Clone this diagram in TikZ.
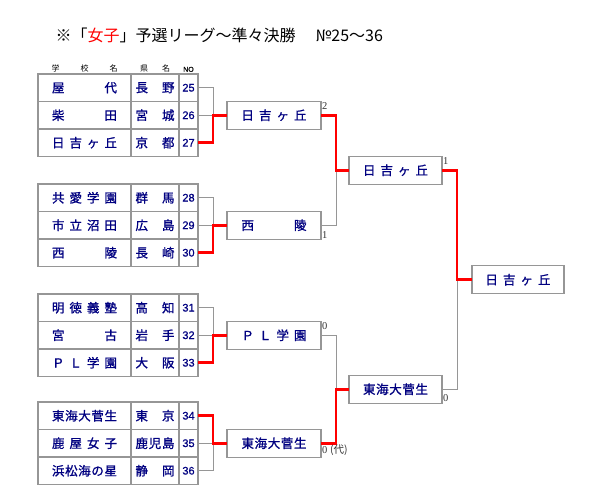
\documentclass[tikz,border=0pt]{standalone}
\usepackage{fontspec}
\setmainfont{Liberation Serif}
\newfontfamily\jp{Noto Sans CJK JP}
\newfontfamily\jpb[FakeBold=1.2]{Noto Sans CJK JP}
\newfontfamily\arial[FakeBold=0.8]{Liberation Sans}
\usepackage{xcolor}
\usetikzlibrary{positioning}
\definecolor{navy}{RGB}{0,0,128}
\definecolor{linegray}{RGB}{150,150,150}

\newcommand\spaced[2]{\makebox[#1][s]{\spacedloop#2\relax}}
\def\spacedloop#1#2{#1\ifx#2\relax\else\hfil\expandafter\spacedloop\expandafter#2\fi}

\begin{document}
\begin{tikzpicture}[x=1pt,y=-1pt,
    cell/.style={draw=linegray, line width=1.2pt, outer sep=0pt, inner sep=0pt,
      minimum height=27.5pt, text=navy, font=\jpb\fontsize{12.5}{14}\selectfont},
    school/.style={cell, minimum width=93pt},
    pref/.style={cell, minimum width=48pt},
    num/.style={cell, minimum width=19pt, font=\arial\fontsize{11}{13}\selectfont},
    team/.style={cell, fill=white, minimum width=94pt, minimum height=28pt},
    hdr/.style={inner sep=0pt, font=\jp\fontsize{8}{9}\selectfont},
    score/.style={inner sep=1pt, text=black!80, font=\fontsize{10.5}{12}\selectfont},
    win/.style={red, line width=2.6pt},
    lose/.style={linegray, line width=1pt}]
  \useasboundingbox (0,0) rectangle (600,500);

  \node[anchor=west, font=\jp\fontsize{16}{18}\selectfont] (title) at (52,35)
    {※「\textcolor{red}{女子}」予選リーグ〜準々決勝\hspace{20pt}№25〜36};

  \node[school] (sch25) at (84.5,87.75) {\spaced{65pt}{屋代}};
  \node[pref, right=0pt of sch25] (pr25) {\spaced{39pt}{長野}};
  \node[num, right=0pt of pr25] (no25) {25};
  \node[school] (sch26) at (84.5,115.25) {\spaced{65pt}{柴田}};
  \node[pref, right=0pt of sch26] (pr26) {\spaced{39pt}{宮城}};
  \node[num, right=0pt of pr26] (no26) {26};
  \node[school] (sch27) at (84.5,142.75) {\spaced{65pt}{日吉ヶ丘}};
  \node[pref, right=0pt of sch27] (pr27) {\spaced{39pt}{京都}};
  \node[num, right=0pt of pr27] (no27) {27};

  \node[hdr, above=2pt of sch25] (hsch) {\spaced{66pt}{学校名}};
  \node[hdr, above=2pt of pr25] (hpr) {\spaced{30pt}{県名}};
  \node[hdr, above=2pt of no25, font=\arial\fontsize{7}{8}\selectfont] (hno) {NO};

  \node[school] (sch28) at (84.5,197.75) {\spaced{65pt}{共愛学園}};
  \node[pref, right=0pt of sch28] (pr28) {\spaced{39pt}{群馬}};
  \node[num, right=0pt of pr28] (no28) {28};
  \node[school] (sch29) at (84.5,225.25) {\spaced{65pt}{市立沼田}};
  \node[pref, right=0pt of sch29] (pr29) {\spaced{39pt}{広島}};
  \node[num, right=0pt of pr29] (no29) {29};
  \node[school] (sch30) at (84.5,252.75) {\spaced{65pt}{西陵}};
  \node[pref, right=0pt of sch30] (pr30) {\spaced{39pt}{長崎}};
  \node[num, right=0pt of pr30] (no30) {30};

  \node[school] (sch31) at (84.5,307.75) {\spaced{65pt}{明徳義塾}};
  \node[pref, right=0pt of sch31] (pr31) {\spaced{39pt}{高知}};
  \node[num, right=0pt of pr31] (no31) {31};
  \node[school] (sch32) at (84.5,335.25) {\spaced{65pt}{宮古}};
  \node[pref, right=0pt of sch32] (pr32) {\spaced{39pt}{岩手}};
  \node[num, right=0pt of pr32] (no32) {32};
  \node[school] (sch33) at (84.5,362.75) {\spaced{65pt}{ＰＬ学園}};
  \node[pref, right=0pt of sch33] (pr33) {\spaced{39pt}{大阪}};
  \node[num, right=0pt of pr33] (no33) {33};

  \node[school] (sch34) at (84.5,415.75) {\spaced{65pt}{東海大菅生}};
  \node[pref, right=0pt of sch34] (pr34) {\spaced{39pt}{東京}};
  \node[num, right=0pt of pr34] (no34) {34};
  \node[school] (sch35) at (84.5,443.25) {\spaced{65pt}{鹿屋女子}};
  \node[pref, right=0pt of sch35] (pr35) {\spaced{39pt}{鹿児島}};
  \node[num, right=0pt of pr35] (no35) {35};
  \node[school] (sch36) at (84.5,470.75) {\spaced{65pt}{浜松海の星}};
  \node[pref, right=0pt of sch36] (pr36) {\spaced{39pt}{静岡}};
  \node[num, right=0pt of pr36] (no36) {36};

  \node[team] (r1) at (274,115.25) {\spaced{65pt}{日吉ヶ丘}};
  \node[team] (r2) at (274,225.25) {\spaced{65pt}{西陵}};
  \node[team] (r3) at (274,335.25) {\spaced{65pt}{ＰＬ学園}};
  \node[team] (r4) at (274,443.25) {\spaced{65pt}{東海大菅生}};
  \node[team, minimum width=93pt] (sf1) at (395.5,170.25) {\spaced{65pt}{日吉ヶ丘}};
  \node[team, minimum width=93pt] (sf2) at (395.5,389.25) {\spaced{65pt}{東海大菅生}};
  \node[team, minimum width=92pt] (fin) at (518,279.75) {\spaced{65pt}{日吉ヶ丘}};

  \coordinate (j1) at (213,115.25);
  \coordinate (j2) at (213,225.25);
  \coordinate (j3) at (213,335.25);
  \coordinate (j4) at (213,443.25);
  \coordinate (j5) at (336,170.25);
  \coordinate (j6) at (336,389.25);
  \coordinate (j7) at (457,279.75);

  \draw[lose] (no25.east) -| (j1) (no26.east) -- (j1);
  \draw[win] (no27.east) -| (j1) -- (r1.west);
  \draw[lose] (no28.east) -| (j2) (no29.east) -- (j2);
  \draw[win] (no30.east) -| (j2) -- (r2.west);
  \draw[lose] (no31.east) -| (j3) (no32.east) -- (j3);
  \draw[win] (no33.east) -| (j3) -- (r3.west);
  \draw[lose] (no36.east) -| (j4) (no35.east) -- (j4);
  \draw[win] (no34.east) -| (j4) -- (r4.west);
  \draw[lose] (r2.east) -| (j5);
  \draw[win] (r1.east) -| (j5) -- (sf1.west);
  \draw[lose] (r3.east) -| (j6);
  \draw[win] (r4.east) -| (j6) -- (sf2.west);
  \draw[lose] (sf2.east) -| (j7);
  \draw[win] (sf1.east) -| (j7) -- (fin.west);

  \node[score, anchor=north west] (sc1) at (r1.north east) {2};
  \node[score, anchor=south west] (sc2) at (r2.south east) {1};
  \node[score, anchor=north west] (sc3) at (r3.north east) {0};
  \node[score, anchor=south west] (sc4) at (r4.south east) {0 {\jp(代)}};
  \node[score, anchor=north west] (sc5) at (sf1.north east) {1};
  \node[score, anchor=south west] (sc6) at (sf2.south east) {0};
\end{tikzpicture}
\end{document}
